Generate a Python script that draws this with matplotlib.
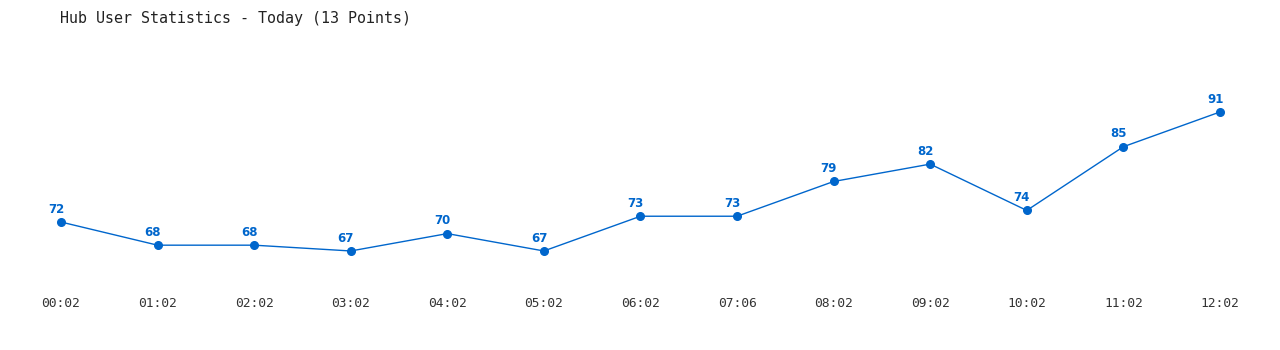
import matplotlib
matplotlib.use("Agg")
import matplotlib.pyplot as plt

# hub user counts, one point per hour
times = ["00:02", "01:02", "02:02", "03:02", "04:02", "05:02", "06:02",
         "07:06", "08:02", "09:02", "10:02", "11:02", "12:02"]
users = [72, 68, 68, 67, 70, 67, 73, 73, 79, 82, 74, 85, 91]

color = "#0066CC"

fig = plt.figure(figsize=(12.8, 3.5), dpi=100)
# axes run from top of the figure down to y=290px
ax = fig.add_axes([0, 60 / 350, 1, 290 / 350])

x = list(range(len(users)))
ax.plot(x, users, color=color, lw=1, marker="o", ms=5.5, clip_on=False)

for xi, v in zip(x, users):
    ax.annotate(str(v), (xi, v), xytext=(-3.5, 4.5), textcoords="offset points",
                ha="center", va="bottom", color=color, fontsize=8.5,
                fontweight="bold", family="DejaVu Sans")

ax.set_xlim(-0.6316, 12.622)
ax.set_ylim(60.26, 110.34)
ax.set_xticks(x)
ax.set_xticklabels(times, family="DejaVu Sans Mono", fontsize=9.3, color="#333333")
ax.set_yticks([])
ax.tick_params(axis="x", length=0, pad=5)
for s in ax.spines.values():
    s.set_visible(False)

fig.text(60 / 1280, 1 - 18 / 350, "Hub User Statistics - Today (13 Points)",
         family="DejaVu Sans Mono", fontsize=10.8, color="#222222",
         ha="left", va="center")

fig.savefig("out.png", dpi=100)
